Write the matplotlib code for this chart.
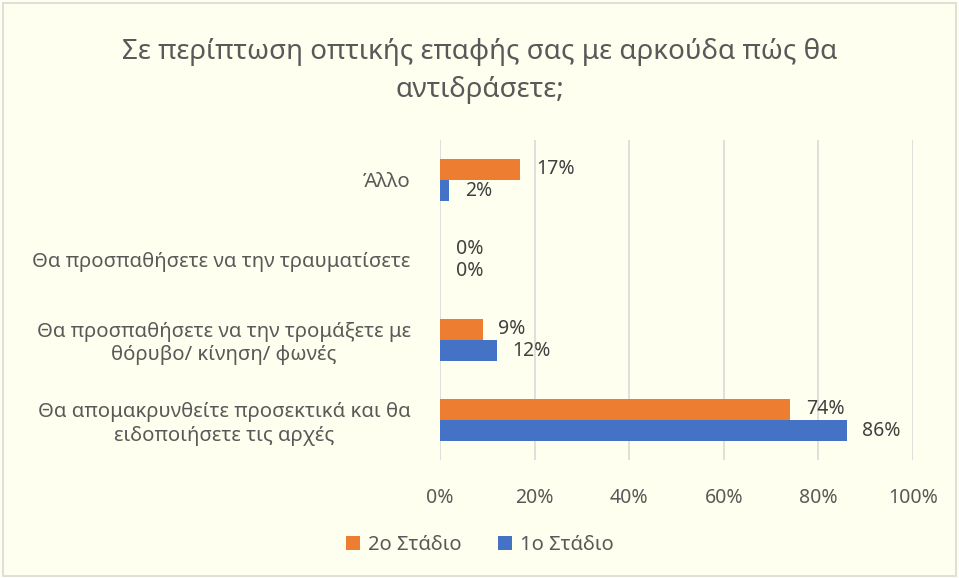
import numpy as np
import matplotlib.pyplot as plt
from matplotlib.patches import Rectangle

plt.rcParams['font.family'] = ['Noto Sans', 'DejaVu Sans']

categories = [
    "Θα απομακρυνθείτε προσεκτικά και θα\nειδοποιήσετε τις αρχές",
    "Θα προσπαθήσετε να την τρομάξετε με\nθόρυβο/ κίνηση/ φωνές",
    "Θα προσπαθήσετε να την τραυματίσετε",
    "Άλλο",
]
stage2 = [74, 9, 0, 17]
stage1 = [86, 12, 0, 2]
series_names = ["2ο Στάδιο", "1ο Στάδιο"]
title = "Σε περίπτωση οπτικής επαφής σας με αρκούδα πώς θα\nαντιδράσετε;"

bg = "#FEFFEE"
txt = "#595959"
orange = "#ED7D31"
blue = "#4472C4"
fs = 14

fig = plt.figure(figsize=(9.59, 5.78), dpi=100, facecolor=bg)
fig.patches.append(Rectangle((0.003, 0.003), 0.994, 0.992, transform=fig.transFigure,
                             fill=False, edgecolor="#D9D9D9", linewidth=1.2))

ax = fig.add_axes([440 / 959, 1 - 460 / 578, (913 - 440) / 959, (460 - 140) / 578])
ax.set_facecolor(bg)

y = np.arange(len(categories))
h = 0.265
ax.barh(y + h / 2, stage2, height=h, color=orange, label=series_names[0], zorder=3)
ax.barh(y - h / 2, stage1, height=h, color=blue, label=series_names[1], zorder=3)

for yi, v in zip(y, stage2):
    ax.text(v + 3.3, yi + h / 2, f"{v}%", va="center", ha="left", fontsize=fs, color="#404040")
for yi, v in zip(y, stage1):
    ax.text(v + 3.3, yi - h / 2, f"{v}%", va="center", ha="left", fontsize=fs, color="#404040")

ax.set_xlim(0, 100)
ax.set_ylim(-0.5, 3.5)
ax.set_xticks(range(0, 101, 20))
ax.set_xticklabels([f"{t}%" for t in range(0, 101, 20)])
ax.set_yticks(y)
ax.set_yticklabels(categories, multialignment="center")
ax.grid(axis="x", color="#D9D9D9", linewidth=1.2, zorder=0)
for s in ax.spines.values():
    s.set_visible(False)
ax.tick_params(axis="both", length=0, labelsize=fs, labelcolor=txt)
ax.tick_params(axis="y", labelsize=14.6, pad=21)
ax.tick_params(axis="x", pad=20)

fig.text(0.5, 1 - 71 / 578, title, fontsize=20, color=txt, ha="center", va="center",
         linespacing=1.45, fontweight="light")

handles, labels = ax.get_legend_handles_labels()
fig.legend(handles, labels, loc="center", bbox_to_anchor=(0.5, 1 - 545 / 578), ncol=2,
           frameon=False, fontsize=14.5, labelcolor=txt, handlelength=0.7, handleheight=0.7,
           columnspacing=1.8, handletextpad=0.4)

fig.savefig("out.png", dpi=100, facecolor=bg)
